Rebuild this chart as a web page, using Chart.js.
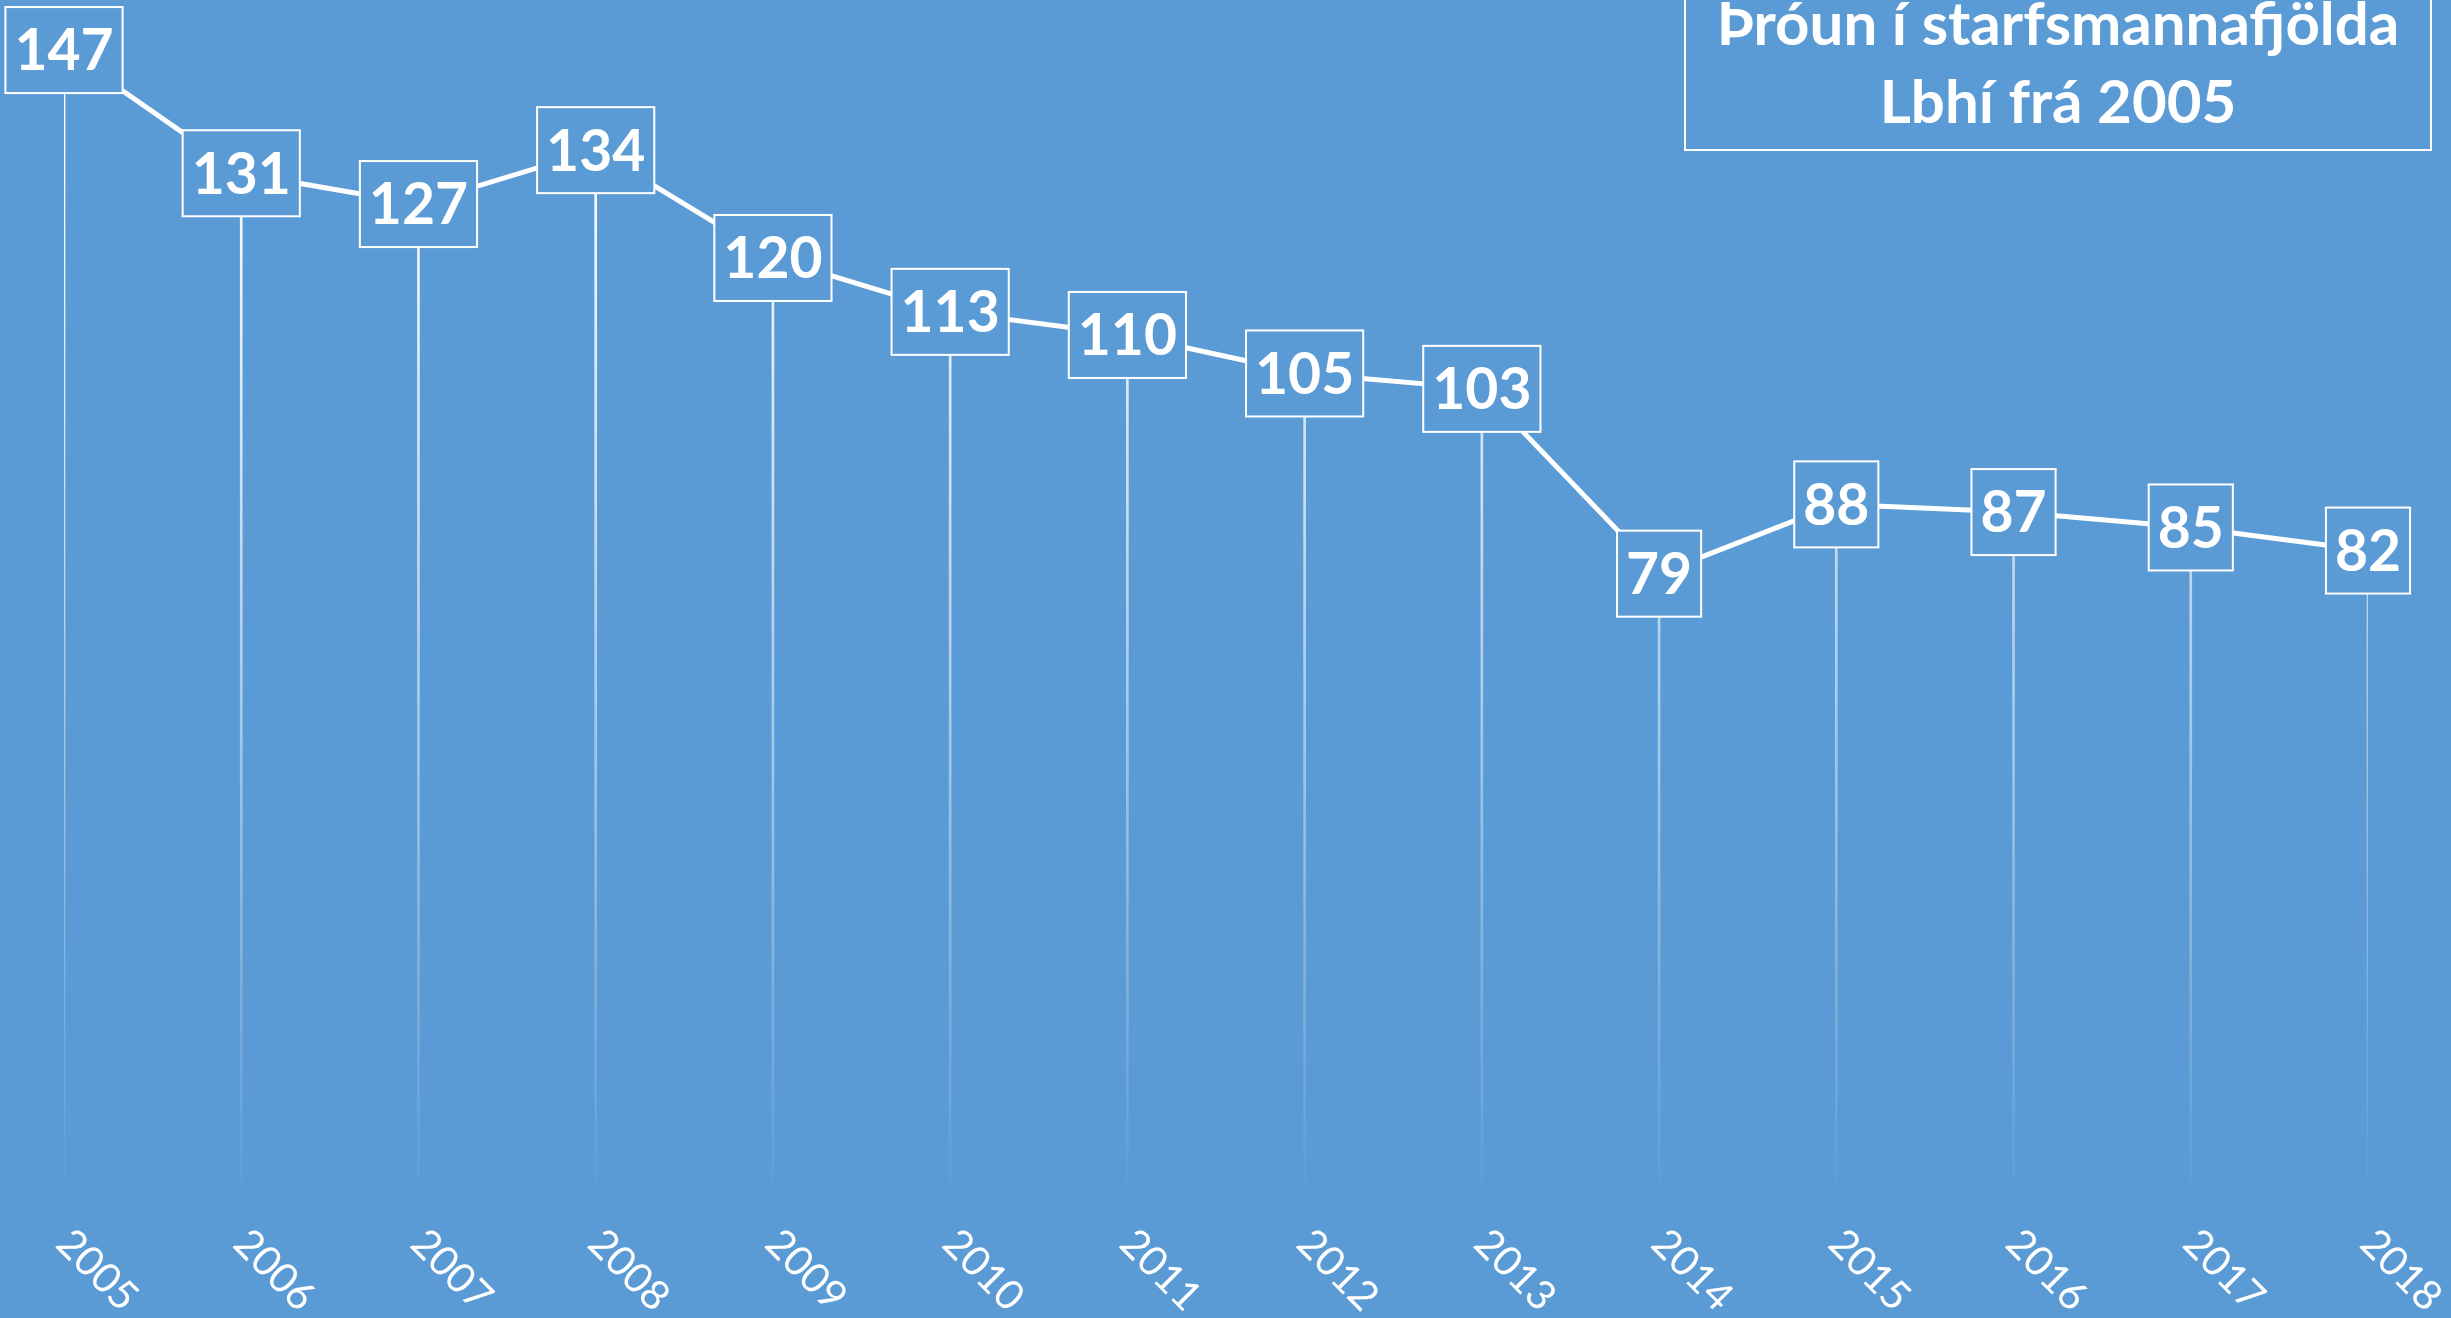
<!DOCTYPE html>
<html>
<head>
<meta charset="utf-8">
<script src="https://cdn.jsdelivr.net/npm/chart.js@4"></script>
<style>
  html, body { margin: 0; padding: 0; background: #5B9BD5; overflow: hidden; }
  #wrap { width: 2451px; height: 1318px; position: relative; }
</style>
</head>
<body>
<div id="wrap"><canvas id="grafica"></canvas></div>
<script>
// --- datos ---
const ar = ['2005', '2006', '2007', '2008', '2009', '2010', '2011', '2012', '2013', '2014', '2015', '2016', '2017', '2018'];
const starfsmenn = [147, 131, 127, 134, 120, 113, 110, 105, 103, 79, 88, 87, 85, 82];
const titill = ['Þróun í starfsmannafjölda', 'Lbhí frá 2005'];

const BAKGRUNNUR = '#5B9BD5';
const HVITT = '#FFFFFF';

// Lóðréttar línur sem dofna niður
function dofnandiLina(context) {
    const chart = context.chart;
    const area = chart.chartArea;
    if (!area) return HVITT;
    const g = chart.ctx.createLinearGradient(0, area.top + 150, 0, area.bottom);
    g.addColorStop(0, 'rgba(255,255,255,1)');
    g.addColorStop(1, 'rgba(255,255,255,0.03)');
    return g;
}

// Kassar með gildum, ártöl og titill
const merkingar = {
    id: 'merkingar',
    afterDatasetsDraw(chart) {
        const ctx = chart.ctx;
        const meta = chart.getDatasetMeta(1);
        ctx.save();
        ctx.font = 'bold 57px Lato';
        ctx.textAlign = 'center';
        ctx.textBaseline = 'middle';
        meta.data.forEach((p, i) => {
            const txt = String(starfsmenn[i]);
            const w = ctx.measureText(txt).width + 18;
            const h = 86;
            ctx.fillStyle = BAKGRUNNUR;
            ctx.fillRect(p.x - w / 2, p.y - h / 2, w, h);
            ctx.strokeStyle = HVITT;
            ctx.lineWidth = 2;
            ctx.strokeRect(p.x - w / 2, p.y - h / 2, w, h);
            ctx.fillStyle = HVITT;
            ctx.fillText(txt, p.x, p.y + 2);
        });

        // ártöl á ská
        const xs = chart.scales.x;
        ctx.font = '41px Lato';
        ctx.textAlign = 'left';
        ctx.textBaseline = 'alphabetic';
        ar.forEach((a, i) => {
            const x = xs.getPixelForValue(i);
            ctx.save();
            ctx.translate(x - 10, 1246);
            ctx.rotate(Math.PI / 4);
            ctx.fillText(a, 0, 0);
            ctx.restore();
        });

        // titill
        ctx.strokeStyle = HVITT;
        ctx.lineWidth = 2;
        ctx.strokeRect(1685, -10, 746, 160);
        ctx.font = 'bold 60px Lato';
        ctx.textAlign = 'center';
        ctx.fillText(titill[0], 2058, 45);
        ctx.fillText(titill[1], 2058, 123);
        ctx.restore();
    }
};

const ctx = document.getElementById('grafica').getContext('2d');
const miGrafica = new Chart(ctx, {
    data: {
        labels: ar,
        datasets: [
            {
                type: 'bar',
                data: starfsmenn,
                barThickness: 2,
                backgroundColor: dofnandiLina,
                borderWidth: 0,
                order: 2
            },
            {
                type: 'line',
                data: starfsmenn,
                borderColor: HVITT,
                borderWidth: 5,
                pointRadius: 0,
                tension: 0,
                fill: false,
                order: 1
            }
        ]
    },
    options: {
        responsive: true,
        maintainAspectRatio: false,
        animation: false,
        layout: { padding: { left: 64, right: 83, top: 0, bottom: 136 } },
        scales: {
            x: { display: false, offset: false },
            y: { display: false, min: 0, max: 153.5 }
        },
        plugins: {
            legend: { display: false },
            tooltip: { enabled: false }
        }
    },
    plugins: [merkingar]
});
</script>
</body>
</html>
